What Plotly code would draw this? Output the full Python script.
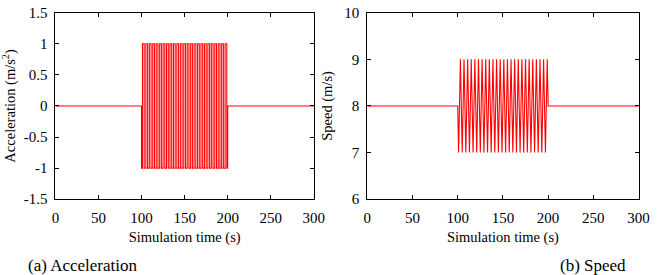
import plotly.graph_objects as go

# Acceleration (step signal, value holds from each time to the next)
acc_t = [0, 100, 101, 103, 105, 107, 109, 111, 113, 115, 117, 119, 121, 123, 125, 127, 129,
         131, 133, 135, 137, 139, 141, 143, 145, 147, 149, 151, 153, 155, 157, 159, 161,
         163, 165, 167, 169, 171, 173, 175, 177, 179, 181, 183, 185, 187, 189, 191, 193,
         195, 197, 199, 200, 300]
acc_v = [0, -1, 1, -1, 1, -1, 1, -1, 1, -1, 1, -1, 1, -1, 1, -1, 1,
         -1, 1, -1, 1, -1, 1, -1, 1, -1, 1, -1, 1, -1, 1, -1, 1,
         -1, 1, -1, 1, -1, 1, -1, 1, -1, 1, -1, 1, -1, 1, -1, 1,
         -1, 1, -1, 0, 0]

# Speed (triangle signal)
spd_t = [0, 100, 101, 103, 105, 107, 109, 111, 113, 115, 117, 119, 121, 123, 125, 127, 129,
         131, 133, 135, 137, 139, 141, 143, 145, 147, 149, 151, 153, 155, 157, 159, 161,
         163, 165, 167, 169, 171, 173, 175, 177, 179, 181, 183, 185, 187, 189, 191, 193,
         195, 197, 199, 200, 300]
spd_v = [8, 8, 7, 9, 7, 9, 7, 9, 7, 9, 7, 9, 7, 9, 7, 9, 7,
         9, 7, 9, 7, 9, 7, 9, 7, 9, 7, 9, 7, 9, 7, 9, 7,
         9, 7, 9, 7, 9, 7, 9, 7, 9, 7, 9, 7, 9, 7, 9, 7,
         9, 7, 9, 8, 8]

x_ticks = [0, 50, 100, 150, 200, 250, 300]
acc_ticks = [-1.5, -1, -0.5, 0, 0.5, 1, 1.5]
acc_ticktext = ["-1.5", "-1", "-0.5", "0", "0.5", "1", "1.5"]
spd_ticks = [6, 7, 8, 9, 10]

FONT = '"Liberation Serif", "Times New Roman", "DejaVu Serif", serif'
RED = "#ff0000"

fig = go.Figure()
fig.add_trace(go.Scatter(x=acc_t, y=acc_v, mode="lines", line=dict(color=RED, width=1.1, shape="hv"),
                         xaxis="x", yaxis="y", showlegend=False))
fig.add_trace(go.Scatter(x=spd_t, y=spd_v, mode="lines", line=dict(color=RED, width=1.1),
                         xaxis="x2", yaxis="y2", showlegend=False))

ax_common = dict(showline=True, linecolor="black", linewidth=1, mirror="ticks",
                 ticks="inside", ticklen=4, tickcolor="black", showgrid=False, zeroline=False,
                 ticklabeloverflow="allow",
                 tickfont=dict(family=FONT, size=15, color="black"))

title_font = dict(family=FONT, size=14.5, color="black")

fig.update_layout(
    width=660, height=275,
    margin=dict(l=0, r=0, t=0, b=0),
    paper_bgcolor="white", plot_bgcolor="white",
    font=dict(family=FONT, color="black"),
    xaxis=dict(domain=[0.0798, 0.4803], range=[0, 300], tickvals=x_ticks, anchor="y",
               ticklabelstandoff=5,
               title=dict(text="Simulation time (s)", font=title_font, standoff=6),
               **ax_common),
    yaxis=dict(domain=[0.2618, 0.9818], range=[-1.5, 1.5], tickvals=acc_ticks, ticktext=acc_ticktext,
               anchor="x", ticklabelstandoff=4,
               title=dict(text="Acceleration (m/s<sup>2</sup>)", font=title_font, standoff=4),
               **ax_common),
    xaxis2=dict(domain=[0.5632, 0.9838], range=[0, 300], tickvals=x_ticks, anchor="y2",
                ticklabelstandoff=5,
                title=dict(text="Simulation time (s)", font=title_font, standoff=6),
                **ax_common),
    yaxis2=dict(domain=[0.2618, 0.9818], range=[6, 10], tickvals=spd_ticks, anchor="x2",
                ticklabelstandoff=4,
                title=dict(text="Speed (m/s)", font=title_font, standoff=8),
                **ax_common),
    annotations=[
        dict(text="(a) Acceleration", x=22 / 660, y=2 / 275, xref="paper", yref="paper",
             xanchor="left", yanchor="middle", showarrow=False, font=dict(family=FONT, size=17)),
        dict(text="(b) Speed", x=638 / 660, y=2 / 275, xref="paper", yref="paper",
             xanchor="right", yanchor="middle", showarrow=False, font=dict(family=FONT, size=17)),
    ],
)

fig.write_html("out.html")
